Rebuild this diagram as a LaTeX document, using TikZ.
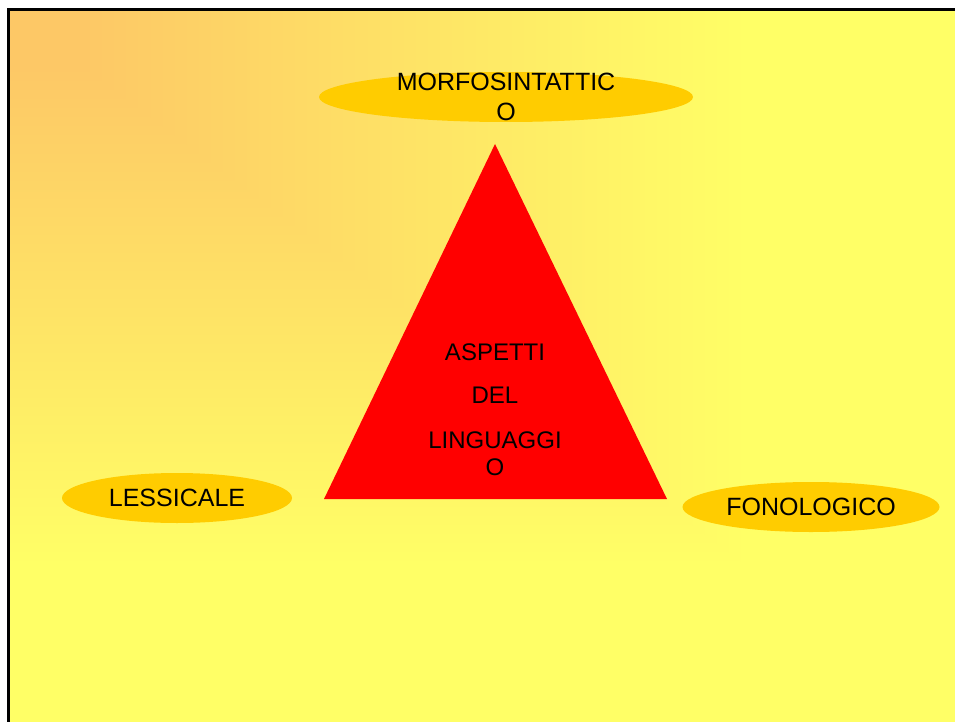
\documentclass[tikz,border=0pt]{standalone}
\usepackage{fontspec}
\setmainfont{Liberation Sans}
\usetikzlibrary{shapes.geometric}
\usepackage{color}
\definecolor{sfondo}{RGB}{255,255,102}
\definecolor{angolo}{RGB}{253,200,102}
\definecolor{oro}{RGB}{255,204,0}
\pgfdeclarehorizontalshading{sfondoorizz}{100bp}{color(0bp)=(angolo); color(29bp)=(angolo); color(64bp)=(sfondo); color(100bp)=(sfondo)}
\pgfdeclareverticalshading{sfondovert}{100bp}{color(0bp)=(sfondo); color(36bp)=(sfondo); color(71bp)=(angolo); color(100bp)=(angolo)}
\tikzstyle{aspetto} = [ellipse,fill=oro,inner sep=0pt]
\tikzstyle{testo} = [align=center,text=black,font=\fontsize{25}{30}\selectfont]
\tikzstyle{testotri} = [align=center,text=black,font=\fontsize{24}{27}\selectfont]

\begin{document}
\begin{tikzpicture}[x=1pt,y=-1pt]
	\useasboundingbox (0,0) rectangle (955,722);

	% sfondo
	\shade[shading=sfondovert] (8,10) rectangle (955,722);
	\begin{scope}
		\clip (8,10) -- (955,10) -- (955,722) -- cycle;
		\shade[shading=sfondoorizz] (8,10) rectangle (955,722);
	\end{scope}
	\draw[line width=3pt] (8,722) -- (8,10) -- (955,10);

	% triangolo
	\fill[red] (324,499) -- (495,144) -- (667,499) -- cycle;
	\node[testotri](aspetti) at (495,410) {ASPETTI\\[16pt]DEL\\[18pt]LINGUAGGI\\O};

	\node[aspetto,minimum width=374,minimum height=50](morfo) at (506,97) {};
	\node[testo](morfotesto) at (morfo) {MORFOSINTATTIC\\O};

	\node[aspetto,minimum width=230,minimum height=50](lessicale) at (177,498) {};
	\node[testo](lessicaletesto) at (lessicale) {LESSICALE};

	\node[aspetto,minimum width=257,minimum height=50](fonologico) at (811,507) {};
	\node[testo](fonologicotesto) at (fonologico) {FONOLOGICO};

\end{tikzpicture}
\end{document}
